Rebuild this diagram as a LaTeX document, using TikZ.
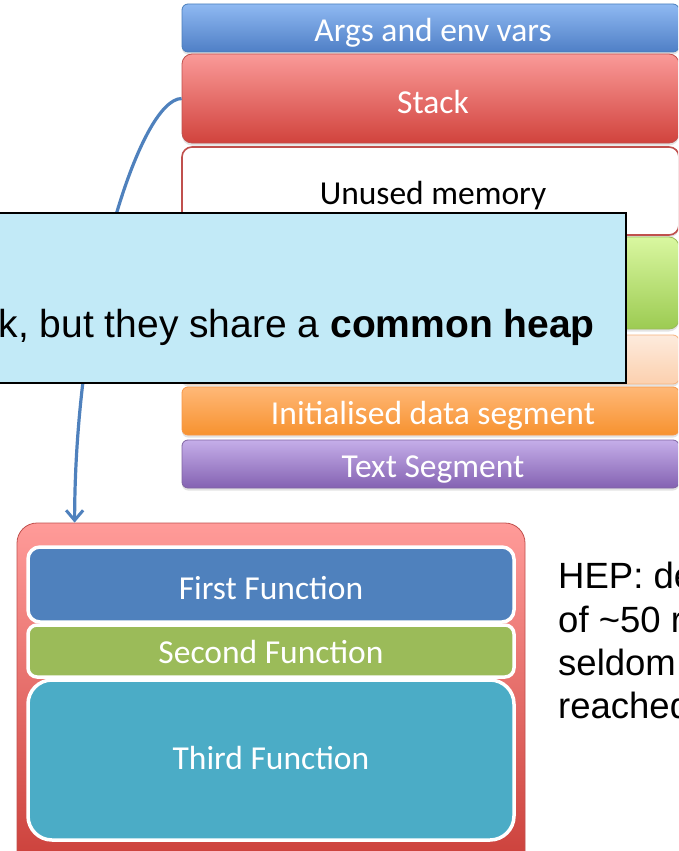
\documentclass[tikz,border=0pt]{standalone}
\usepackage{fontspec}
\setmainfont{Carlito}
\newfontfamily\arialf{Liberation Sans}
\usetikzlibrary{arrows.meta,shadows}
\definecolor{argsTop}{HTML}{8FB9F2}
\definecolor{argsBot}{HTML}{4F7FC6}
\definecolor{argsLine}{HTML}{4A7EBB}
\definecolor{stackTop}{HTML}{FA9A98}
\definecolor{stackBot}{HTML}{D1433D}
\definecolor{redLine}{HTML}{C0504D}
\definecolor{heapTop}{HTML}{D9F7A0}
\definecolor{heapBot}{HTML}{9CCB52}
\definecolor{heapLine}{HTML}{9BBB59}
\definecolor{peachTop}{HTML}{FDEBDD}
\definecolor{peachBot}{HTML}{FCD0AE}
\definecolor{peachLine}{HTML}{F5B27C}
\definecolor{initTop}{HTML}{FFB877}
\definecolor{initBot}{HTML}{F7922F}
\definecolor{initLine}{HTML}{F79646}
\definecolor{textTop}{HTML}{C5AEE9}
\definecolor{textBot}{HTML}{8462B2}
\definecolor{textLine}{HTML}{8064A2}
\definecolor{outerTop}{HTML}{FF9B99}
\definecolor{outerBot}{HTML}{C93C36}
\definecolor{firstC}{HTML}{4F81BD}
\definecolor{secondC}{HTML}{9BBB59}
\definecolor{thirdC}{HTML}{4BACC6}
\definecolor{calloutC}{HTML}{C2EAF7}
\definecolor{arrowC}{HTML}{4F81BD}
\begin{document}
\begin{tikzpicture}[x=1pt,y=-1pt,
  seg/.style={inner sep=0pt, minimum width=497pt, line width=0.8pt,
    drop shadow={opacity=0.22, shadow xshift=0pt, shadow yshift=-2.5pt}},
  lbl/.style={font=\fontsize{33.5}{40}\selectfont, text=white, inner sep=0pt, anchor=base},
  fbox/.style={inner sep=0pt, minimum width=486pt, draw=white, line width=3.5pt},
  hepline/.style={font=\arialf\fontsize{36.5}{43}\selectfont, inner sep=0pt, anchor=base west},
  arrowline/.style={draw=arrowC, line width=3.2pt,
    -{Straight Barb[length=10pt,width=17pt,line width=3pt]}}]
\useasboundingbox (0,0) rectangle (678,851);
\clip (0,0) rectangle (678,851);
% memory layout column
\node[seg, rounded corners=6pt, minimum height=48pt, draw=argsLine, top color=argsTop, bottom color=argsBot] (args) at (430.5,28) {};
\node[seg, rounded corners=10pt, minimum height=89pt, draw=redLine, top color=stackTop, bottom color=stackBot] (stack) at (430.5,98.5) {};
\node[seg, rounded corners=10pt, minimum height=88pt, draw=redLine, line width=1.6pt, fill=white] (unused) at (430.5,191) {};
\node[seg, rounded corners=10pt, minimum height=92pt, draw=heapLine, top color=heapTop, bottom color=heapBot] (heap) at (430.5,283) {};
\node[seg, rounded corners=6pt, minimum height=49pt, draw=peachLine, top color=peachTop, bottom color=peachBot] (bss) at (430.5,359.5) {};
\node[seg, rounded corners=6pt, minimum height=48pt, draw=initLine, top color=initTop, bottom color=initBot] (init) at (430.5,411) {};
\node[seg, rounded corners=6pt, minimum height=48pt, draw=textLine, top color=textTop, bottom color=textBot] (text) at (430.5,464) {};
\node[lbl] (argsL) at (433,42) {Args and env vars};
\node[lbl] (stackL) at (433,113) {Stack};
\node[lbl, text=black] (unusedL) at (433,204) {Unused memory};
\node[lbl] (initL) at (433,424) {Initialised data segment};
\node[lbl] (textL) at (433,477) {Text Segment};
% thread stack
\node[inner sep=0pt, minimum width=508pt, minimum height=357pt, rounded corners=20pt, draw=redLine, line width=0.8pt, top color=outerTop, bottom color=outerBot] (outer) at (271,701.5) {};
\node[fbox, rounded corners=12pt, minimum height=75pt, fill=firstC] (first) at (271,584.5) {};
\node[fbox, rounded corners=9pt, minimum height=52pt, fill=secondC] (second) at (271,651) {};
\node[fbox, rounded corners=24pt, minimum height=160pt, fill=thirdC] (third) at (271,760) {};
\node[lbl] (firstL) at (271,599) {First Function};
\node[lbl] (secondL) at (271,663) {Second Function};
\node[lbl] (thirdL) at (271,769) {Third Function};
% connector
\draw[arrowline] (stack.west) .. controls (140,99) and (75,300) .. ([xshift=58pt]outer.north west);
% callout
\node[inner sep=0pt, minimum width=646pt, minimum height=170pt, fill=calloutC, draw=black, line width=2pt] (callout) at (303,298) {};
\node[inner sep=0pt, anchor=base east, font=\arialf\fontsize{39}{47}\selectfont] (calloutT) at (595,337) {k, but they share a \textbf{common heap}};
% side note
\node[hepline] (hep1) at (558,588) {HEP: de};
\node[hepline] (hep2) at (558,632) {of \textasciitilde50 r};
\node[hepline] (hep3) at (558,675) {seldom};
\node[hepline] (hep4) at (558,718) {reached};
\end{tikzpicture}
\end{document}
